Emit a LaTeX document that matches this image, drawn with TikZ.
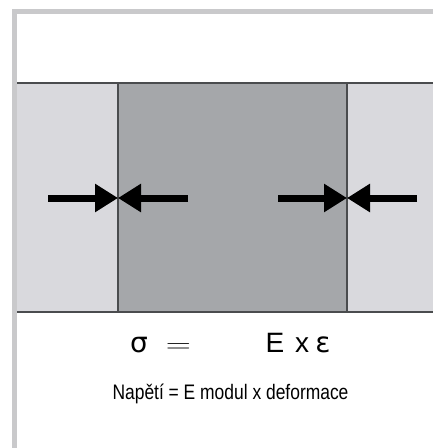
\documentclass[tikz,border=0pt]{standalone}
\usepackage{fontspec}
\setmainfont{Liberation Sans}
\newfontfamily\greekfont{DejaVu Sans}
\usetikzlibrary{arrows.meta}
\definecolor{frame}{HTML}{C9C9CB}
\definecolor{outerband}{HTML}{D9D9DD}
\definecolor{core}{HTML}{A5A7AA}
\definecolor{edge}{HTML}{4A4C4E}
\tikzset{
  push/.style    = {-{Triangle[length=23pt,width=27pt]}, line width=7pt, draw=black},
  border/.style  = {draw=edge, line width=1.5pt},
  formula/.style = {anchor=base, inner sep=0pt, font=\fontsize{28}{30}\selectfont},
  caption/.style = {anchor=base, inner sep=0pt, font=\fontsize{21}{24}\selectfont},
}

\begin{document}
\begin{tikzpicture}[x=1pt, y=-1pt]

  \useasboundingbox (0,0) rectangle (433,448);

  % frame of the panel
  \draw[frame, line width=5pt] (14.5,448) -- (14.5,11.5) -- (433,11.5);

  % bands
  \fill[outerband] (17,83) rectangle (433,312);
  \fill[core] (118,83) rectangle (347,312);
  \draw[border] (17,83) -- (433,83);
  \draw[border] (17,312) -- (433,312);
  \draw[border] (118,83) -- (118,312);
  \draw[border] (347,83) -- (347,312);

  % contact points and arrow tails
  \coordinate (hitL) at (118,198);
  \coordinate (hitR) at (347,198);
  \coordinate (tailLa) at (48,198);
  \coordinate (tailLb) at (188,198);
  \coordinate (tailRa) at (278,198);
  \coordinate (tailRb) at (417,198);

  \draw[push] (tailLa) -- (hitL);
  \draw[push] (tailLb) -- (hitL);
  \draw[push] (tailRa) -- (hitR);
  \draw[push] (tailRb) -- (hitR);

  % formula
  \node[formula] (sigma) at (139,352) {\greekfont σ};
  \node[formula] (eq)    at (178.5,352) {\scalebox{1.4}[1]{$=$}};
  \node[formula] (modE)  at (275,352) {E};
  \node[formula] (times) at (302,352) {x};
  \node[formula] (eps)   at (323,352) {\greekfont ε};

  \node[caption] (text) at (230.5,399) {\scalebox{0.83}[1]{Napětí = E modul x deformace}};

\end{tikzpicture}
\end{document}
